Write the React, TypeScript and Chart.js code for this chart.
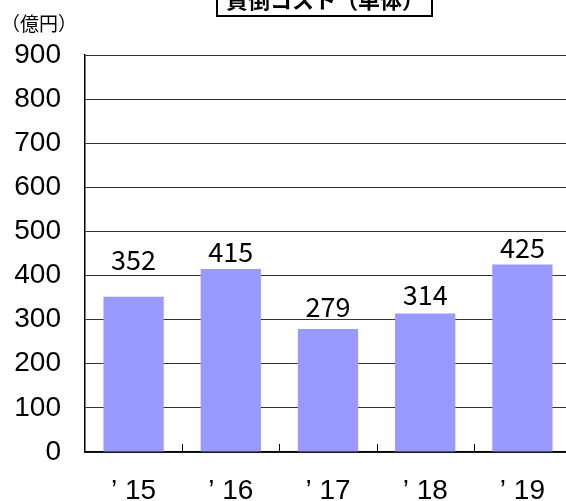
import React, { useEffect, useRef } from "react";
import { Chart, registerables } from "chart.js";

Chart.register(...registerables);

const categories = ["’ 15", "’ 16", "’ 17", "’ 18", "’ 19"];
const values = [352, 415, 279, 314, 425];
const yMin = 0;
const yMax = 900;
const yStep = 100;
const labelGaps = [27, 7, 12, 8, 7];
const titleText = "貸倒コスト（単体）";
const unitText = "（億円）";

const overlayPlugin = {
  id: "overlay",
  afterDraw(chart: any) {
    const ctx = chart.ctx;
    const area = chart.chartArea;
    const xs = chart.scales.x;
    ctx.save();
    // x tick marks pointing up at category boundaries
    ctx.strokeStyle = "#000";
    ctx.lineWidth = 1;
    for (let i = 1; i <= categories.length; i++) {
      const a = xs.getPixelForValue(i - 1);
      const step = categories.length > 1 ? xs.getPixelForValue(1) - xs.getPixelForValue(0) : 0;
      const x = Math.round(a + step / 2) + 0.5;
      ctx.beginPath();
      ctx.moveTo(x, area.bottom);
      ctx.lineTo(x, area.bottom - 8);
      ctx.stroke();
    }
    // data labels
    const meta = chart.getDatasetMeta(0);
    ctx.fillStyle = "#000";
    ctx.font = '27px "Noto Sans CJK JP"';
    ctx.textAlign = "center";
    ctx.textBaseline = "alphabetic";
    meta.data.forEach((bar: any, i: number) => {
      ctx.fillText(String(values[i]), bar.x, bar.y - labelGaps[i]);
    });
    // unit label
    ctx.font = '19px "Noto Sans CJK JP"';
    ctx.textAlign = "left";
    ctx.textBaseline = "middle";
    ctx.fillText(unitText, 1, 24);
    // title box (cut off at top)
    ctx.lineWidth = 2;
    ctx.strokeRect(217, -12, 215, 28);
    ctx.font = 'bold 22px "Noto Sans CJK JP"';
    ctx.textAlign = "center";
    ctx.textBaseline = "alphabetic";
    ctx.fillText(titleText, 325, 8);
    ctx.restore();
  },
};

export default function App() {
  const ref = useRef<HTMLCanvasElement | null>(null);
  useEffect(() => {
    if (!ref.current) return;
    const chart = new Chart(ref.current, {
      type: "bar",
      data: {
        labels: categories,
        datasets: [
          {
            data: values,
            backgroundColor: "#9999FF",
            borderWidth: 0,
            barPercentage: 0.62,
            categoryPercentage: 1,
          },
        ],
      },
      options: {
        responsive: false,
        animation: false,
        devicePixelRatio: 1,
        layout: { padding: { top: 55, right: 9, left: 0, bottom: 0 } },
        plugins: {
          legend: { display: false },
          title: { display: false },
          tooltip: { enabled: false },
        },
        scales: {
          x: {
            grid: { display: true, drawOnChartArea: false, drawTicks: false },
            border: { display: true, color: "#000", width: 1.5 },
            ticks: {
              color: "#000",
              font: { family: '"Liberation Sans", Arial, sans-serif', size: 28 },
              padding: 22,
            },
            afterFit(scale: any) {
              scale.height = 49;
            },
          },
          y: {
            min: yMin,
            max: yMax,
            grid: { color: "#333", lineWidth: 1, drawTicks: false },
            border: { display: true, color: "#000", width: 1.5 },
            ticks: {
              stepSize: yStep,
              color: "#000",
              font: { family: '"Liberation Sans", Arial, sans-serif', size: 28 },
              padding: 24,
            },
            afterFit(scale: any) {
              scale.width = 85;
            },
          },
        },
      },
      plugins: [overlayPlugin],
    });
    return () => chart.destroy();
  }, []);
  return (
    <div
      style={{
        position: "fixed",
        left: 0,
        top: 0,
        width: 566,
        height: 501,
        overflow: "hidden",
        background: "#fff",
      }}
    >
      <canvas ref={ref} width={580} height={501} style={{ display: "block" }} />
    </div>
  );
}
